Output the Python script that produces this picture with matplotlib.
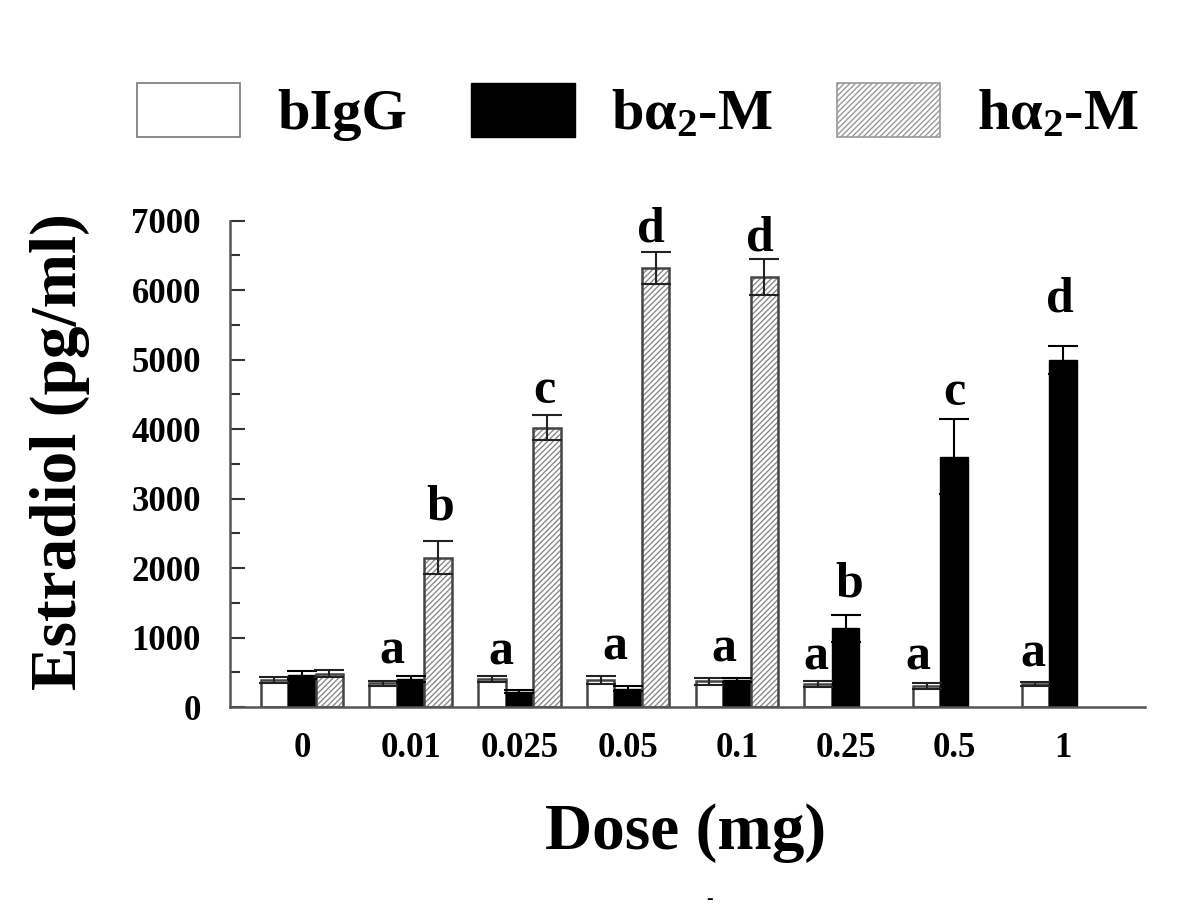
import numpy as np
import matplotlib
matplotlib.use('Agg')
import matplotlib.pyplot as plt
from matplotlib.patches import Patch

# === data ===
doses = ['0', '0.01', '0.025', '0.05', '0.1', '0.25', '0.5', '1']
bigg = [390, 340, 400, 390, 370, 330, 300, 330]
bigg_err = [45, 35, 45, 55, 50, 40, 40, 30]
ba2m = [460, 400, 220, 265, 390, 1130, 3600, 4990]
ba2m_err = [55, 45, 25, 35, 30, 190, 540, 200]
ha2m = [480, 2150, 4020, 6320, 6190, np.nan, np.nan, np.nan]
ha2m_err = [50, 240, 180, 230, 260, np.nan, np.nan, np.nan]

# significance letters: text, dose index, baseline value
sig_text = ['a', 'a', 'a', 'a', 'a', 'a', 'a', 'b', 'c', 'd', 'd', 'b', 'c', 'd']
sig_group = [1, 2, 3, 4, 5, 6, 7, 1, 2, 3, 4, 5, 6, 7]
sig_y = [633, 605, 677, 652, 533, 533, 580, 2706, 4376, 6698, 6578, 1588, 4347, 5686]
sig_dx = [-0.17, -0.17, -0.12, -0.12, -0.27, -0.33, -0.28, 0.27, 0.23, 0.21, 0.21, 0.03, 0.0, -0.03]

# === style ===
plt.rcParams['font.family'] = ['Liberation Serif', 'DejaVu Serif']
plt.rcParams['font.weight'] = 'bold'
plt.rcParams['mathtext.fontset'] = 'custom'
plt.rcParams['mathtext.rm'] = 'Liberation Serif:bold'
plt.rcParams['mathtext.it'] = 'Liberation Serif:bold'
plt.rcParams['mathtext.bf'] = 'Liberation Serif:bold'
plt.rcParams['hatch.linewidth'] = 1.0

EDGE = '#444444'
HATCH = '#8a8a8a'

fig = plt.figure(figsize=(12, 9.07), dpi=100)
ax = fig.add_axes([230 / 1200, 1 - 707 / 907, (1145 - 230) / 1200, (707 - 220.7) / 907])

x = np.arange(len(doses))
w = 0.253
ekw = dict(elinewidth=1.5, capsize=11, capthick=1.5, fmt='none')

ax.bar(x - w, bigg, w, color='white', edgecolor=EDGE, linewidth=1.8, zorder=2)
ax.errorbar(x - w, bigg, yerr=bigg_err, ecolor='#222222', zorder=3, **ekw)

ax.bar(x, ba2m, w, color='black', edgecolor='black', linewidth=1.0, zorder=2)
ax.errorbar(x, ba2m, yerr=ba2m_err, ecolor='black', zorder=3, **ekw)

hx = x[~np.isnan(ha2m)] + w
hv = np.array(ha2m)[~np.isnan(ha2m)]
he = np.array(ha2m_err)[~np.isnan(ha2m)]
ax.bar(hx, hv, w, color='white', edgecolor=HATCH, hatch='//////', linewidth=0, zorder=2)
ax.bar(hx, hv, w, fill=False, edgecolor=EDGE, linewidth=1.8, zorder=2)
ax.errorbar(hx, hv, yerr=he, ecolor='#222222', zorder=3, **ekw)

for t, g, dx, yy in zip(sig_text, sig_group, sig_dx, sig_y):
    ax.text(g + dx, yy, t, ha='center', va='baseline', fontsize=36, fontweight='bold')

ax.set_xlim(-0.662, 7.755)
ax.set_ylim(0, 7000)
ax.set_xticks(x)
ax.set_xticklabels(doses)
ax.set_yticks(np.arange(0, 7001, 1000))
ax.set_yticks(np.arange(500, 7000, 1000), minor=True)
ax.tick_params(axis='x', length=0, pad=18, labelsize=25)
ax.tick_params(axis='y', which='major', direction='in', length=11, width=1.5,
               color='#333333', pad=21, labelsize=25)
ax.tick_params(axis='y', which='minor', direction='in', length=7, width=1.5, color='#333333')
for lab in ax.get_xticklabels() + ax.get_yticklabels():
    lab.set_fontweight('bold')

for s in ['top', 'right']:
    ax.spines[s].set_visible(False)
for s in ['left', 'bottom']:
    ax.spines[s].set_color('#555555')
    ax.spines[s].set_linewidth(1.8)

fig.text(60 / 1200, 1 - 452 / 907, 'Estradiol (pg/ml)', rotation=90, ha='center', va='center',
         fontsize=47, fontweight='bold')
fig.text(686 / 1200, 1 - 833 / 907, 'Dose (mg)', ha='center', va='center',
         fontsize=47, fontweight='bold')
fig.text(710 / 1200, 1 - 899 / 907, '-', ha='center', va='center', fontsize=14)

handles = [Patch(facecolor='white', edgecolor='#777777', linewidth=1.2),
           Patch(facecolor='black', edgecolor='black'),
           Patch(facecolor='white', edgecolor='#999999', hatch='//////', linewidth=1.2)]
fig.legend(handles, ['bIgG', r'b$\alpha_2$-M', r'h$\alpha_2$-M'], loc='center',
           bbox_to_anchor=(638 / 1200, 1 - 112 / 907), ncol=3, frameon=False,
           fontsize=42, handlelength=1.77, handleheight=1.05, handletextpad=0.63,
           columnspacing=1.1)

fig.savefig('out.png', dpi=100)
